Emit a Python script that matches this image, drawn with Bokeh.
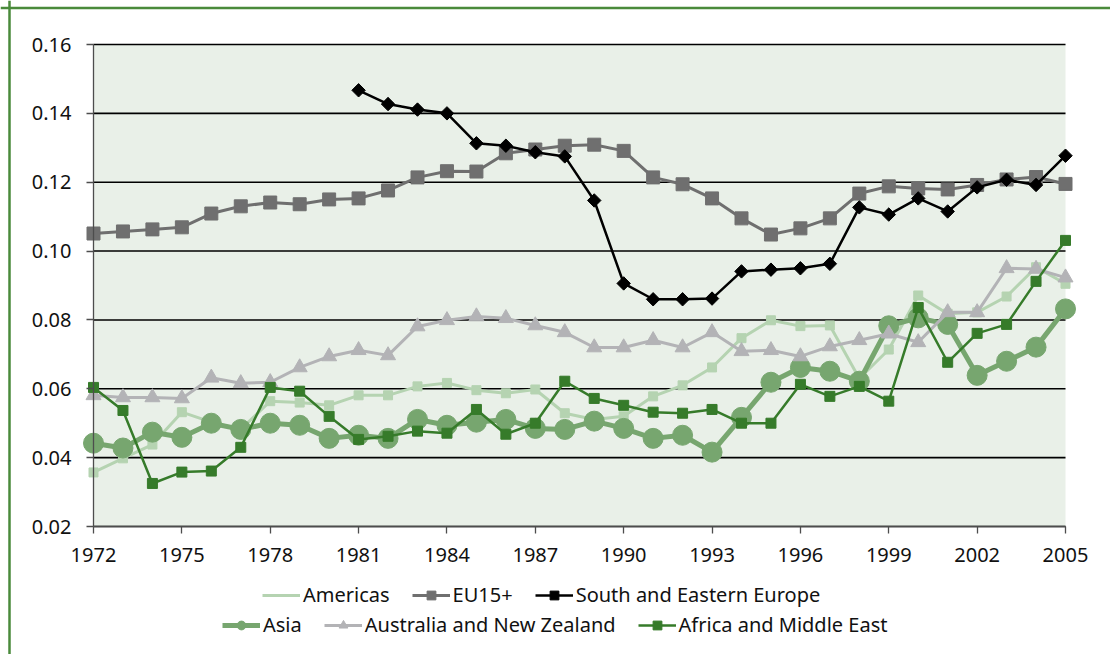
from bokeh.plotting import figure
from bokeh.models import (Range1d, FixedTicker, PrintfTickFormatter, Legend,
                          LegendItem, BoxAnnotation, Span)
from bokeh.embed import file_html
from bokeh.resources import INLINE

nan = float("nan")

YEARS = [1972, 1973, 1974, 1975, 1976, 1977, 1978, 1979, 1980, 1981, 1982,
         1983, 1984, 1985, 1986, 1987, 1988, 1989, 1990, 1991, 1992, 1993,
         1994, 1995, 1996, 1997, 1998, 1999, 2000, 2001, 2002, 2003, 2004, 2005]

AMERICAS = [0.0357, 0.0398, 0.0438, 0.0532, 0.0503, 0.0482, 0.0564, 0.0560,
            0.0552, 0.0581, 0.0581, 0.0607, 0.0617, 0.0596, 0.0587, 0.0598,
            0.0529, 0.0511, 0.0520, 0.0578, 0.0610, 0.0662, 0.0747, 0.0799,
            0.0782, 0.0784, 0.0630, 0.0714, 0.0871, 0.0818, 0.0822, 0.0868,
            0.0953, 0.0905]

EU15 = [0.1051, 0.1057, 0.1063, 0.1069, 0.1109, 0.1130, 0.1141, 0.1136,
        0.1150, 0.1153, 0.1176, 0.1214, 0.1232, 0.1231, 0.1284, 0.1295,
        0.1306, 0.1309, 0.1291, 0.1214, 0.1194, 0.1153, 0.1095, 0.1048,
        0.1066, 0.1095, 0.1167, 0.1188, 0.1182, 0.1179, 0.1192, 0.1208,
        0.1215, 0.1195]

SE_EUROPE = [nan, nan, nan, nan, nan, nan, nan, nan, nan,
             0.1467, 0.1427, 0.1411, 0.1400, 0.1313, 0.1306, 0.1287, 0.1275,
             0.1147, 0.0906, 0.0860, 0.0860, 0.0862, 0.0941, 0.0946, 0.0950,
             0.0963, 0.1127, 0.1106, 0.1153, 0.1115, 0.1185, 0.1207, 0.1192,
             0.1277]

ASIA = [0.0442, 0.0428, 0.0474, 0.0459, 0.0500, 0.0482, 0.0500, 0.0494,
        0.0456, 0.0465, 0.0456, 0.0511, 0.0494, 0.0503, 0.0511, 0.0485,
        0.0482, 0.0506, 0.0485, 0.0456, 0.0465, 0.0416, 0.0517, 0.0619,
        0.0662, 0.0651, 0.0622, 0.0783, 0.0806, 0.0787, 0.0639, 0.0680,
        0.0721, 0.0832]

AUS_NZ = [0.0581, 0.0575, 0.0575, 0.0572, 0.0632, 0.0616, 0.0619, 0.0662,
          0.0694, 0.0712, 0.0697, 0.0781, 0.0799, 0.0810, 0.0805, 0.0784,
          0.0764, 0.0720, 0.0720, 0.0741, 0.0720, 0.0764, 0.0709, 0.0712,
          0.0694, 0.0723, 0.0741, 0.0760, 0.0735, 0.0822, 0.0822, 0.0950,
          0.0948, 0.0923]

AFRICA_ME = [0.0604, 0.0537, 0.0325, 0.0358, 0.0361, 0.0430, 0.0604, 0.0593,
             0.0520, 0.0453, 0.0462, 0.0477, 0.0471, 0.0540, 0.0468, 0.0500,
             0.0622, 0.0572, 0.0552, 0.0532, 0.0529, 0.0540, 0.0500, 0.0500,
             0.0613, 0.0578, 0.0607, 0.0564, 0.0836, 0.0677, 0.0761, 0.0787,
             0.0912, 0.1031]

Y_TICKS = [0.02, 0.04, 0.06, 0.08, 0.10, 0.12, 0.14, 0.16]
X_TICKS = [1972, 1975, 1978, 1981, 1984, 1987, 1990, 1993, 1996, 1999, 2002, 2005]

LABELS = ["Americas", "EU15+", "South and Eastern Europe",
          "Asia", "Australia and New Zealand", "Africa and Middle East"]

FONT = "Noto Sans"

# layout (canvas pixels)
W, H = 1110, 654
AX_L, AX_R = 93, 1065      # x pixel of first / last year
AX_T, AX_B = 44, 526       # y pixel of top / bottom tick

ppx = (AX_R - AX_L) / (YEARS[-1] - YEARS[0])
ppy = (AX_B - AX_T) / (Y_TICKS[-1] - Y_TICKS[0])
x_range = Range1d(YEARS[0] - AX_L / ppx, YEARS[-1] + (W - AX_R) / ppx)
y_range = Range1d(Y_TICKS[0] - (H - AX_B) / ppy, Y_TICKS[-1] + AX_T / ppy)

p = figure(frame_width=W, frame_height=H,
           min_border_left=0, min_border_right=0,
           min_border_top=0, min_border_bottom=0,
           x_range=x_range, y_range=y_range,
           output_backend="svg", toolbar_location=None,
           background_fill_color="white", border_fill_color="white")
p.outline_line_color = None
p.xgrid.visible = False
p.ygrid.visible = False

# outer frame lines (top and left)
p.add_layout(Span(location=9, location_units="screen", dimension="height",
                  line_color="#4a8a3b", line_width=2.5))
p.add_layout(Span(location=H - 7.5, location_units="screen", dimension="width",
                  line_color="#4a8a3b", line_width=2.5))

# plot area background
p.add_layout(BoxAnnotation(left=YEARS[0], right=YEARS[-1], bottom=Y_TICKS[0],
                           top=Y_TICKS[-1], fill_color="#e9f0e8", fill_alpha=1,
                           line_color=None, level="underlay"))

# horizontal gridlines
n = len(Y_TICKS)
p.segment(x0=[YEARS[0]] * n, x1=[YEARS[-1]] * n, y0=Y_TICKS, y1=Y_TICKS,
          line_color="black", line_width=1.6)

# axes
for ax in (p.xaxis[0], p.yaxis[0]):
    ax.major_tick_out = 7
    ax.major_tick_in = 0
    ax.minor_tick_out = 0
    ax.minor_tick_in = 0
    ax.axis_line_color = "#4d4d4d"
    ax.axis_line_width = 1.3
    ax.major_tick_line_color = "#4d4d4d"
    ax.major_tick_line_width = 1.3
    ax.major_label_text_font = FONT
    ax.major_label_text_font_size = "20px"
    ax.major_label_text_color = "#111111"

p.yaxis.fixed_location = YEARS[0]
p.yaxis.bounds = (Y_TICKS[0], Y_TICKS[-1])
p.yaxis.ticker = FixedTicker(ticks=Y_TICKS)
p.yaxis.formatter = PrintfTickFormatter(format="%.2f")
p.yaxis.major_label_standoff = 15
p.xaxis.fixed_location = Y_TICKS[0]
p.xaxis.ticker = FixedTicker(ticks=X_TICKS)
p.xaxis.formatter = PrintfTickFormatter(format="%d")
p.xaxis.bounds = (YEARS[0], YEARS[-1])
p.xaxis.major_label_standoff = 14

styles = [
    (AMERICAS, "#b5d3b1", 3, "square", 9, 0),
    (EU15, "#6f6f6f", 3, "square", 13, 0),
    (SE_EUROPE, "#000000", 2.5, "square", 9.5, 0.785398),
    (ASIA, "#77a66f", 5, "circle", 20, 0),
    (AUS_NZ, "#b3b3b6", 3, "triangle", 15, 0),
    (AFRICA_ME, "#367b2a", 2.5, "square", 10, 0),
]

items = []
for i, ((vals, col, lw, mk, sz, ang), lab) in enumerate(zip(styles, LABELS)):
    r1 = p.line(YEARS, vals, line_color=col, line_width=lw)
    r2 = p.scatter(YEARS, vals, marker=mk, size=sz, angle=ang,
                   fill_color=col, line_color=col)
    rs = [r1] if i == 0 else [r1, r2]
    items.append(LegendItem(label=lab, renderers=rs))


def make_legend(its, loc):
    return Legend(items=its, orientation="horizontal", location=loc,
                  padding=0, margin=0, spacing=22, glyph_width=38,
                  glyph_height=22, label_height=22, label_standoff=3,
                  label_text_font=FONT, label_text_font_size="20px",
                  label_text_color="#111111",
                  border_line_color=None, background_fill_alpha=0)


p.add_layout(make_legend(items[:3], (262, 46)), "center")
p.add_layout(make_legend(items[3:], (222, 16)), "center")

open("out.html", "w").write(file_html(p, INLINE))
